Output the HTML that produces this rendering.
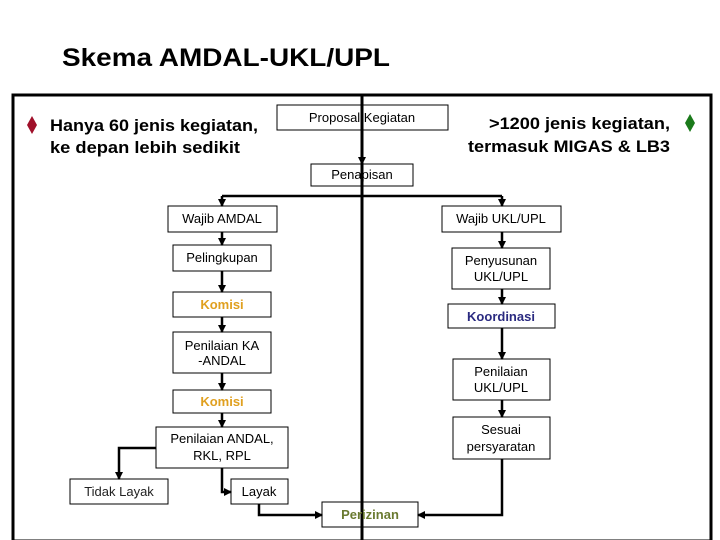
<!DOCTYPE html>
<html><head><meta charset="utf-8"><style>
body{margin:0;background:#fff}
svg{display:block}
text{font-family:"Liberation Sans",Arial,sans-serif}
</style></head><body>
<svg width="720" height="540" viewBox="0 0 720 540" xmlns="http://www.w3.org/2000/svg">
<defs><marker id="a" markerWidth="8" markerHeight="8" refX="7" refY="4" orient="auto" markerUnits="userSpaceOnUse"><path d="M0,0 L8,4 L0,8 z" fill="#000"/></marker></defs>
<text x="62" y="66" font-size="25" font-weight="bold" textLength="328" lengthAdjust="spacingAndGlyphs">Skema AMDAL-UKL/UPL</text>
<rect x="13" y="95" width="698" height="446" fill="none" stroke="#000" stroke-width="3"/>
<path d="M32,116 L37,125 L32,134 L27,125 z" fill="#a0102a"/>
<path d="M690,114 L695,123 L690,132 L685,123 z" fill="#1a7a1a"/>
<text x="50" y="131" font-size="17" font-weight="bold" textLength="208" lengthAdjust="spacingAndGlyphs">Hanya 60 jenis kegiatan,</text>
<text x="50" y="153" font-size="17" font-weight="bold" textLength="190" lengthAdjust="spacingAndGlyphs">ke depan lebih sedikit</text>
<text x="489" y="129" font-size="17" font-weight="bold" textLength="181" lengthAdjust="spacingAndGlyphs">&gt;1200 jenis kegiatan,</text>
<text x="468" y="152" font-size="17" font-weight="bold" textLength="202" lengthAdjust="spacingAndGlyphs">termasuk MIGAS &amp; LB3</text>
<g fill="#fff" stroke="#000" stroke-width="1">
<rect x="277" y="105" width="171" height="25"/>
<rect x="311" y="164" width="102" height="22"/>
<rect x="168" y="206" width="109" height="26"/>
<rect x="442" y="206" width="119" height="26"/>
<rect x="173" y="245" width="98" height="26"/>
<rect x="452" y="248" width="98" height="41"/>
<rect x="173" y="292" width="98" height="25"/>
<rect x="448" y="304" width="107" height="24"/>
<rect x="173" y="332" width="98" height="41"/>
<rect x="453" y="359" width="97" height="41"/>
<rect x="173" y="390" width="98" height="23"/>
<rect x="453" y="417" width="97" height="42"/>
<rect x="156" y="427" width="132" height="41"/>
<rect x="70" y="479" width="98" height="25"/>
<rect x="231" y="479" width="57" height="25"/>
<rect x="322" y="502" width="96" height="25"/>
</g>
<line x1="362" y1="94" x2="362" y2="540" stroke="#000" stroke-width="3"/>
<g fill="none" stroke="#000" stroke-width="2.5" marker-end="url(#a)">
<path d="M362,130 V164"/>
<path d="M222,196 H502 M222,196 V206"/>
<path d="M502,196 V206"/>
<path d="M222,232 V245"/>
<path d="M222,271 V292"/>
<path d="M222,317 V332"/>
<path d="M222,373 V390"/>
<path d="M222,413 V427"/>
<path d="M502,232 V248"/>
<path d="M502,289 V304"/>
<path d="M502,328 V359"/>
<path d="M502,400 V417"/>
<path d="M156,448 H119 V479"/>
<path d="M222,468 V492 H231"/>
<path d="M259,504 V515 H322"/>
<path d="M502,459 V515 H418"/>
</g>
<g font-size="13" text-anchor="middle" fill="#000">
<text x="362" y="122">Proposal Kegiatan</text>
<text x="362" y="179">Penapisan</text>
<text x="222" y="223">Wajib AMDAL</text>
<text x="501" y="223">Wajib UKL/UPL</text>
<text x="222" y="262">Pelingkupan</text>
<text x="501" y="265">Penyusunan</text>
<text x="501" y="281">UKL/UPL</text>
<text x="222" y="350">Penilaian KA</text>
<text x="222" y="365">-ANDAL</text>
<text x="501" y="376">Penilaian</text>
<text x="501" y="392">UKL/UPL</text>
<text x="501" y="434">Sesuai</text>
<text x="501" y="451">persyaratan</text>
<text x="222" y="443">Penilaian ANDAL,</text>
<text x="222" y="460">RKL, RPL</text>
<text x="119" y="496" fill="#222">Tidak Layak</text>
<text x="259" y="496">Layak</text>
<text x="222" y="309" font-weight="bold" fill="#e0a020">Komisi</text>
<text x="222" y="406" font-weight="bold" fill="#e0a020">Komisi</text>
<text x="501" y="321" font-weight="bold" fill="#2a2a80">Koordinasi</text>
<text x="370" y="519" font-weight="bold" fill="#6a7a30">Perizinan</text>
</g>
</svg>
</body></html>
